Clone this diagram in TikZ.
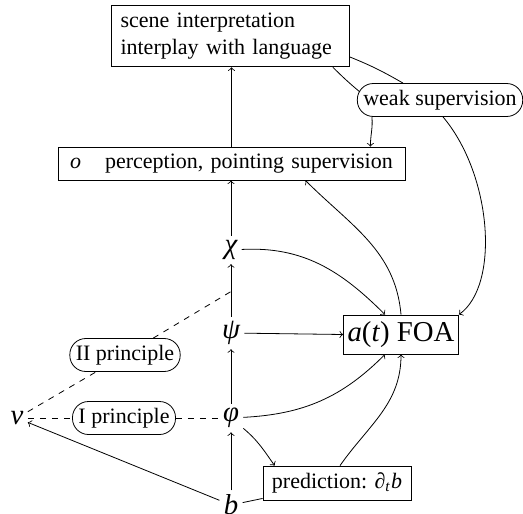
\documentclass[tikz,border=0pt]{standalone}
\usepackage{fontspec}
\setmainfont{Liberation Serif}
\usetikzlibrary{calc}
\begin{document}
\begin{tikzpicture}[x=0.5pt,y=-0.5pt,>=to,
  font=\fontsize{11pt}{13.2pt}\selectfont,
  box/.style={draw,inner sep=4pt},
  pill/.style={draw,rounded corners=8pt,inner xsep=3pt,inner ysep=0pt,minimum height=16.5pt},
  var/.style={inner sep=2pt,font=\Large\itshape}]
\useasboundingbox (0,0) rectangle (523,513);
% nodes
\node[box,align=left,text width=110pt,inner xsep=4.5pt,minimum height=30pt] (top) at (230.5,36) {scene interpretation\\interplay with language};
\node[box,align=left,text width=161.5pt,minimum height=16.5pt,inner xsep=6pt,inner ysep=2pt] (o) at (231.5,163.5) {\textit{o}\hspace{12pt}perception, pointing supervision};
\node[var] (chi) at (231,250) {χ};
\node[var] (psi) at (231,333) {ψ};
\node[var] (phi) at (231,418) {φ};
\node[var] (b) at (231,505) {b};
\node[var] (v) at (17,418) {v};
\node[box,minimum width=56pt,minimum height=19.5pt,inner sep=2pt,font=\Large] (foa) at (401,334.5) {\textit{a}(\textit{t}) FOA};
\node[box,minimum width=74pt,minimum height=17pt,inner sep=2pt] (pred) at (337,483) {prediction: ∂\textsubscript{\textit{t}}\textit{b}};
\node[pill] (ws) at (440,100) {weak supervision};
\node[pill] (ii) at (125,355) {II principle};
\node[pill] (i) at (124,418) {I principle};
\coordinate (m) at ($(psi)!0.5!(chi)$);
% vertical chain
\draw[->] (o.north) -- (o.north |- top.south);
\draw[->] (chi) -- (chi |- o.south);
\draw[->] (psi) -- (chi);
\draw[->] (phi) -- (psi);
\draw[->] (b) -- (phi);
% to FOA
\draw[->] (psi) -- (foa.west);
\draw[->] (chi) to[out=3,in=135] ([xshift=-8pt]foa.north);
\draw[->] (phi) to[out=3,in=225] ([xshift=-8pt]foa.south);
\draw[->] ([xshift=1.5pt]pred.north) to[out=55,in=270] (foa.south);
\draw[->] (foa.north) to[out=95,in=-45] ([xshift=-50pt]o.south east);
% weak supervision
\draw ([xshift=-8.5pt]top.south east) to[out=-45,in=140] ([xshift=1.5pt,yshift=4pt]ws.west);
\draw[->] ([xshift=7.5pt]ws.south west) to[out=-85,in=90] ([xshift=-17.5pt]o.north east);
\draw ([yshift=-10.5pt]top.east) to[out=-22,in=150] ([xshift=-18.5pt]ws.north);
\draw[->] ([xshift=1.5pt]ws.south) .. controls (492,175) and (500,285) .. (foa.north east);
% b, prediction, v
\draw (b) -- (pred);
\draw[->] (phi) to[out=-40,in=125] ([xshift=6pt]pred.north west);
\draw[->] (b) -- (v);
\draw[dashed] (v) -- (i);
\draw[dashed] (i) -- (phi);
\draw[dashed] (v) -- (ii);
\draw[dashed] (ii) -- (m);
\end{tikzpicture}
\end{document}
